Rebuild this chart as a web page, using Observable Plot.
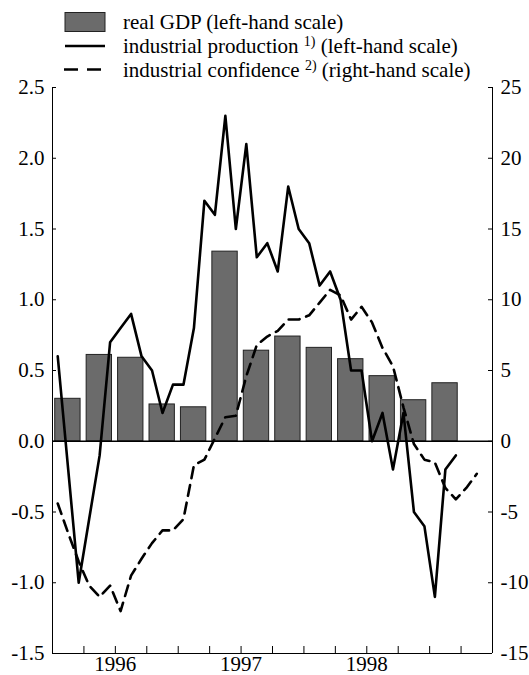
<!DOCTYPE html>
<html><head><meta charset="utf-8">
<script src="https://cdn.jsdelivr.net/npm/d3@7"></script>
<script src="https://cdn.jsdelivr.net/npm/@observablehq/plot@0.6"></script>
<style>
body{margin:0;background:#fff;font-family:"Liberation Serif","Times New Roman",serif;}
#legend svg, #chart svg{display:block;overflow:visible;}
</style></head><body>
<div id="legend"></div>
<div id="chart"></div>
<script>
// ---- data ----
const quarters = ["1996Q1","1996Q2","1996Q3","1996Q4","1997Q1","1997Q2","1997Q3","1997Q4","1998Q1","1998Q2","1998Q3","1998Q4","1999Q1"];
const realGDP = [0.30, 0.61, 0.59, 0.26, 0.24, 1.34, 0.64, 0.74, 0.66, 0.58, 0.46, 0.29, 0.41];

const months = ["1996-01","1996-02","1996-03","1996-04","1996-05","1996-06","1996-07","1996-08","1996-09","1996-10","1996-11","1996-12",
                "1997-01","1997-02","1997-03","1997-04","1997-05","1997-06","1997-07","1997-08","1997-09","1997-10","1997-11","1997-12",
                "1998-01","1998-02","1998-03","1998-04","1998-05","1998-06","1998-07","1998-08","1998-09","1998-10","1998-11","1998-12",
                "1999-01","1999-02","1999-03","1999-04","1999-05"];
const industrialProduction = [0.6, -0.2, -1.0, -0.55, -0.1, 0.7, 0.8, 0.9, 0.6, 0.5, 0.2, 0.4,
                              0.4, 0.8, 1.7, 1.6, 2.3, 1.5, 2.1, 1.3, 1.4, 1.2, 1.8, 1.5,
                              1.4, 1.1, 1.2, 1.0, 0.5, 0.5, 0.0, 0.2, -0.2, 0.2, -0.5, -0.6,
                              -1.1, -0.2, -0.1];
const industrialConfidence = [-4.4, -6.5, -8.5, -10.2, -11.0, -10.2, -12.0, -9.5, -8.3, -7.2, -6.3, -6.3,
                              -5.5, -1.7, -1.3, 0.2, 1.7, 1.8, 4.6, 6.8, 7.4, 7.8, 8.6, 8.6,
                              8.9, 9.8, 10.7, 10.3, 8.6, 9.5, 8.4, 6.6, 5.3, 2.4, -0.2, -1.3,
                              -1.5, -3.3, -4.1, -3.3, -2.3];

const leftTicks = [2.5, 2.0, 1.5, 1.0, 0.5, 0.0, -0.5, -1.0, -1.5];
const rightTicks = [25, 20, 15, 10, 5, 0, -5, -10, -15];
const yearLabels = ["1996", "1997", "1998"];
const axisStart = "1996-01", axisEnd = "1999-06";

const legendItems = [
  {text: "real GDP", sup: "", tail: " (left-hand scale)"},
  {text: "industrial production ", sup: "1)", tail: " (left-hand scale)"},
  {text: "industrial confidence ", sup: "2)", tail: " (right-hand scale)"}
];

// ---- helpers ----
const baseYear = +yearLabels[0];
const mIdx = m => (+m.slice(0, 4) - baseYear) * 12 + (+m.slice(5, 7) - 1);
const qIdx = q => (+q.slice(0, 4) - baseYear) * 4 + (+q.slice(5) - 1);
const ratio = rightTicks[0] / leftTicks[0];

const xDomain = [mIdx(axisStart), mIdx(axisEnd) + 1];
const yDomain = [d3.min(leftTicks), d3.max(leftTicks)];

const barData = quarters.map((q, i) => ({q, v: realGDP[i], x1: qIdx(q) * 3 + 0.26, x2: qIdx(q) * 3 + 2.68}));
const ipData = industrialProduction.map((v, i) => ({x: mIdx(months[i]) + 0.5, v}));
const icData = industrialConfidence.map((v, i) => ({x: mIdx(months[i]) + 0.5, v: v / ratio}));
const yearPos = yearLabels.map(y => mIdx(y + "-01") + 6);
const qTicks = d3.range(xDomain[0] + 3, xDomain[1], 3);

const FILL = "#6b6b6b", EDGE = "#222";
const FONT = '"Liberation Serif", "Times New Roman", serif';
const FS = 21;
const W = 529, LH = 76, H = 675 - LH;
const mL = 52, mR = 37, mT = 11, mB = 22;
const plotW = W - mL - mR, plotH = H - mT - mB;

// ---- legend ----
const lg = d3.select("#legend").append("svg").attr("width", W).attr("height", LH)
  .style("font-family", FONT).style("font-size", FS + "px");
const rowY = [22, 46, 69.5];
lg.append("rect").attr("x", 65).attr("y", rowY[0] - 9.5).attr("width", 40).attr("height", 19)
  .attr("fill", FILL).attr("stroke", EDGE).attr("stroke-width", 1);
lg.append("line").attr("x1", 65).attr("x2", 105).attr("y1", rowY[1]).attr("y2", rowY[1])
  .attr("stroke", "black").attr("stroke-width", 2.6);
lg.append("line").attr("x1", 64).attr("x2", 101).attr("y1", rowY[2]).attr("y2", rowY[2])
  .attr("stroke", "black").attr("stroke-width", 2.6).attr("stroke-dasharray", "14,9");
legendItems.forEach((it, i) => {
  const t = lg.append("text").attr("x", 123).attr("y", rowY[i] + 7).attr("fill", "black");
  t.append("tspan").text(it.text);
  if (it.sup) {
    t.append("tspan").attr("dy", -7).style("font-size", "14px").text(it.sup);
    t.append("tspan").attr("dy", 7).text(it.tail);
  } else {
    t.append("tspan").text(it.tail);
  }
});

// ---- chart ----
const chart = Plot.plot({
  width: W, height: H,
  marginLeft: mL, marginRight: mR, marginTop: mT, marginBottom: mB,
  x: {domain: xDomain, axis: null},
  y: {domain: yDomain, axis: null},
  style: {fontFamily: FONT, fontSize: FS + "px", color: "black", background: "white", overflow: "visible"},
  marks: [
    Plot.rectY(barData, {x1: "x1", x2: "x2", y1: 0, y2: "v", fill: FILL, stroke: EDGE, strokeWidth: 1}),
    Plot.ruleY([0], {stroke: "black", strokeWidth: 1.4}),
    Plot.ruleY([yDomain[0]], {stroke: "black", strokeWidth: 1}),
    Plot.ruleX(xDomain, {stroke: "black", strokeWidth: 1}),
    Plot.tickX(qTicks, {x: d => d, stroke: "black", strokeWidth: 1, insetTop: plotH - 7}),
    Plot.tickY(leftTicks, {y: d => d, stroke: "black", strokeWidth: 1, insetRight: plotW - 4}),
    Plot.tickY(leftTicks, {y: d => d, stroke: "black", strokeWidth: 1, insetLeft: plotW - 4}),
    Plot.line(icData, {x: "x", y: "v", stroke: "black", strokeWidth: 2.6, strokeDasharray: "11,7"}),
    Plot.line(ipData, {x: "x", y: "v", stroke: "black", strokeWidth: 2.6}),
    Plot.axisY({anchor: "left", label: null, ticks: leftTicks, tickSize: 0, tickPadding: 8, tickFormat: d => d.toFixed(1), fontSize: FS}),
    Plot.axisY({anchor: "right", label: null, ticks: leftTicks, tickSize: 0, tickPadding: 8, tickFormat: d => String(Math.round(d * ratio)), fontSize: FS}),
    Plot.axisX({anchor: "bottom", label: null, ticks: yearPos, tickSize: 0, tickPadding: 3, tickFormat: d => yearLabels[yearPos.indexOf(d)], fontSize: FS})
  ]
});
document.getElementById("chart").appendChild(chart);
</script>
</body></html>
